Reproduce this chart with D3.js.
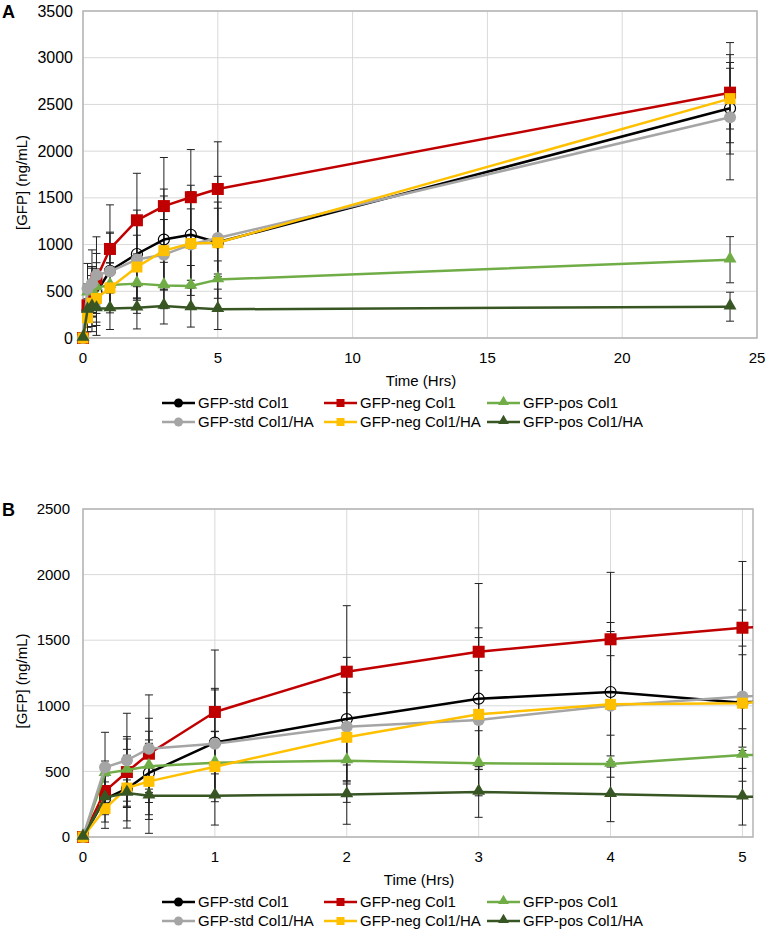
<!DOCTYPE html>
<html>
<head>
<meta charset="utf-8">
<script src="https://cdn.jsdelivr.net/npm/d3@7"></script>
<style>
  body { margin: 0; background: #fff; }
  svg text { font-family: "Liberation Sans", Arial, sans-serif; fill: #000; }
</style>
</head>
<body>
<svg id="chart" width="768" height="935"></svg>
<script>
// sampling times (hours)
let times = [0, 0.167, 0.333, 0.5, 1, 2, 3, 4, 5, 24];

// mean [GFP] ng/mL
let stdCol1 = [0, 290, 368, 488, 720, 899, 1054, 1105, 1024, 2459];
let negCol1 = [0, 350, 495, 635, 953, 1260, 1412, 1507, 1595, 2626];
let posCol1 = [0, 485, 510, 540, 566, 582, 562, 556, 625, 838];
let stdHA   = [0, 531, 585, 673, 711, 841, 892, 1000, 1070, 2363];
let negHA   = [0, 216, 373, 424, 536, 760, 935, 1011, 1020, 2562];
let posHA   = [0, 300, 335, 315, 315, 323, 343, 325, 307, 335];

// error bar half-widths
let stdCol1Err = [0, 176, 300, 318, 413, 470, 540, 530, 365, 490];
let negCol1Err = [0, 180, 270, 270, 472, 503, 520, 510, 505, 536];
let posCol1Err = [0, 94, 237, 200, 240, 318, 248, 220, 200, 247];
let stdHAErr   = [0, 267, 358, 410, 410, 437, 376, 382, 385, 670];
let negHAErr   = [0, 150, 250, 290, 267, 340, 585, 555, 710, 325];
let posHAErr   = [0, 120, 100, 287, 224, 226, 193, 208, 216, 155];

let seriesNames = ["GFP-std Col1", "GFP-neg Col1", "GFP-pos Col1",
                   "GFP-std Col1/HA", "GFP-neg Col1/HA", "GFP-pos Col1/HA"];

let series = [
    {name: seriesNames[0], values: stdCol1, err: stdCol1Err, color: "#000000", shape: "open"},
    {name: seriesNames[1], values: negCol1, err: negCol1Err, color: "#c00000", shape: "square"},
    {name: seriesNames[2], values: posCol1, err: posCol1Err, color: "#70ad47", shape: "triangle"},
    {name: seriesNames[3], values: stdHA,   err: stdHAErr,   color: "#a5a5a5", shape: "circle"},
    {name: seriesNames[4], values: negHA,   err: negHAErr,   color: "#ffc000", shape: "square"},
    {name: seriesNames[5], values: posHA,   err: posHAErr,   color: "#375623", shape: "triangle"}
];

let svg = d3.select("#chart");

function drawMarker(g, shape, color, x, y, size) {
    if (shape == "open") {
        g.append("circle").attr("cx", x).attr("cy", y).attr("r", size / 2)
            .attr("fill", "none").attr("stroke", color).attr("stroke-width", 1.2);
    } else if (shape == "circle") {
        g.append("circle").attr("cx", x).attr("cy", y).attr("r", size / 2)
            .attr("fill", color);
    } else if (shape == "square") {
        g.append("rect").attr("x", x - size / 2).attr("y", y - size / 2)
            .attr("width", size).attr("height", size).attr("fill", color);
    } else {
        let sym = d3.symbol().type(d3.symbolTriangle).size(size * size * 0.5);
        g.append("path").attr("d", sym()).attr("transform", "translate(" + x + "," + (y - 1) + ")")
            .attr("fill", color);
    }
}

function drawPanel(p) {
    let g = svg.append("g");
    let x = d3.scaleLinear().domain(p.xDomain).range([p.left, p.right]);
    let y = d3.scaleLinear().domain([0, p.yMax]).range([p.bottom, p.top]);
    let xTicks = d3.range(0, p.xDomain[1] + 0.001, p.xStep).filter(d => d <= p.xDomain[1]);
    let yTicks = d3.range(0, p.yMax + 1, 500);

    // gridlines
    g.selectAll(".hg").data(yTicks).join("line")
        .attr("x1", p.left).attr("x2", p.right)
        .attr("y1", d => y(d)).attr("y2", d => y(d))
        .attr("stroke", "#d9d9d9").attr("stroke-width", 1);
    g.selectAll(".vg").data(xTicks).join("line")
        .attr("y1", p.top).attr("y2", p.bottom)
        .attr("x1", d => x(d)).attr("x2", d => x(d))
        .attr("stroke", "#d9d9d9").attr("stroke-width", 1);

    // frame
    g.append("rect").attr("x", p.left).attr("y", p.top)
        .attr("width", p.right - p.left).attr("height", p.bottom - p.top)
        .attr("fill", "none").attr("stroke", "#b4b4b4").attr("stroke-width", 1.5);

    // tick labels
    g.selectAll(".yt").data(yTicks).join("text")
        .attr("x", p.yLabelX).attr("y", d => y(d)).attr("dy", "0.35em")
        .attr("text-anchor", "end").style("font-size", p.yFont + "px")
        .text(d => d);
    g.selectAll(".xt").data(xTicks).join("text")
        .attr("x", d => x(d)).attr("y", p.bottom + 20).attr("dy", "0.35em")
        .attr("text-anchor", "middle").style("font-size", "15px")
        .text(d => d);

    // axis titles
    g.append("text").attr("x", (p.left + p.right) / 2 + 1).attr("y", p.bottom + 43).attr("dy", "0.35em")
        .attr("text-anchor", "middle").style("font-size", "15px").text("Time (Hrs)");
    g.append("text")
        .attr("transform", "translate(22," + ((p.top + p.bottom) / 2 + 8) + ") rotate(-90)")
        .attr("dy", "0.35em").attr("text-anchor", "middle").style("font-size", "15px")
        .text("[GFP] (ng/mL)");

    // panel letter
    g.append("text").attr("x", 2).attr("y", p.top + 1).attr("dy", "0.35em")
        .style("font-size", "18px").style("font-weight", "bold").text(p.label);

    // clip
    let clipId = "clip" + p.label;
    svg.append("clipPath").attr("id", clipId).append("rect")
        .attr("x", p.left).attr("y", p.top - 20)
        .attr("width", p.right - p.left).attr("height", p.bottom - p.top + 40);

    let data = g.append("g");
    let visible = times.map((t, i) => i).filter(i => times[i] <= p.xDomain[1]);

    // error bars
    series.forEach(s => {
        visible.forEach(i => {
            if (s.err[i] == 0) return;
            let cx = x(times[i]);
            let y1 = y(s.values[i] + s.err[i]), y0 = y(Math.max(0, s.values[i] - s.err[i]));
            data.append("line").attr("x1", cx).attr("x2", cx).attr("y1", y1).attr("y2", y0)
                .attr("stroke", "#222").attr("stroke-width", 1);
            [y1, y0].forEach(yy => {
                data.append("line").attr("x1", cx - 4).attr("x2", cx + 4).attr("y1", yy).attr("y2", yy)
                    .attr("stroke", "#222").attr("stroke-width", 1);
            });
        });
    });

    // lines and markers, series order
    let line = d3.line().x((d, i) => x(times[i])).y(d => y(d));
    series.forEach(s => {
        data.append("path").datum(s.values)
            .attr("d", line)
            .attr("clip-path", "url(#" + clipId + ")")
            .attr("fill", "none").attr("stroke", s.color).attr("stroke-width", 2.5)
            .attr("stroke-linejoin", "round");
        let size = s.shape == "square" ? (s.color == "#c00000" ? 12 : 11) : (s.shape == "open" ? 11 : 12);
        visible.forEach(i => drawMarker(data, s.shape, s.color, x(times[i]), y(s.values[i]), size));
    });

    // legend
    let colX = [162, 324, 487];
    let legendY = p.bottom + 65;
    series.forEach((s, k) => {
        let lx = colX[k % 3], ly = legendY + Math.floor(k / 3) * 19;
        let lg = g.append("g");
        lg.append("line").attr("x1", lx).attr("x2", lx + 33).attr("y1", ly).attr("y2", ly)
            .attr("stroke", s.color).attr("stroke-width", 2.5);
        let shape = s.shape == "open" ? "circle" : s.shape;
        let msize = shape == "circle" ? 9 : (shape == "square" ? 8 : 10);
        drawMarker(lg, shape, s.color, lx + 16.5, ly, msize);
        lg.append("text").attr("x", lx + 36).attr("y", ly).attr("dy", "0.35em")
            .style("font-size", "15px").text(s.name);
    });
}

drawPanel({label: "A", left: 83, right: 757, top: 11, bottom: 338,
    xDomain: [0, 25], xStep: 5, yMax: 3500, yLabelX: 73, yFont: 16});
drawPanel({label: "B", left: 83, right: 753, top: 509, bottom: 837,
    xDomain: [0, 5.08], xStep: 1, yMax: 2500, yLabelX: 70, yFont: 15});
</script>
</body>
</html>
